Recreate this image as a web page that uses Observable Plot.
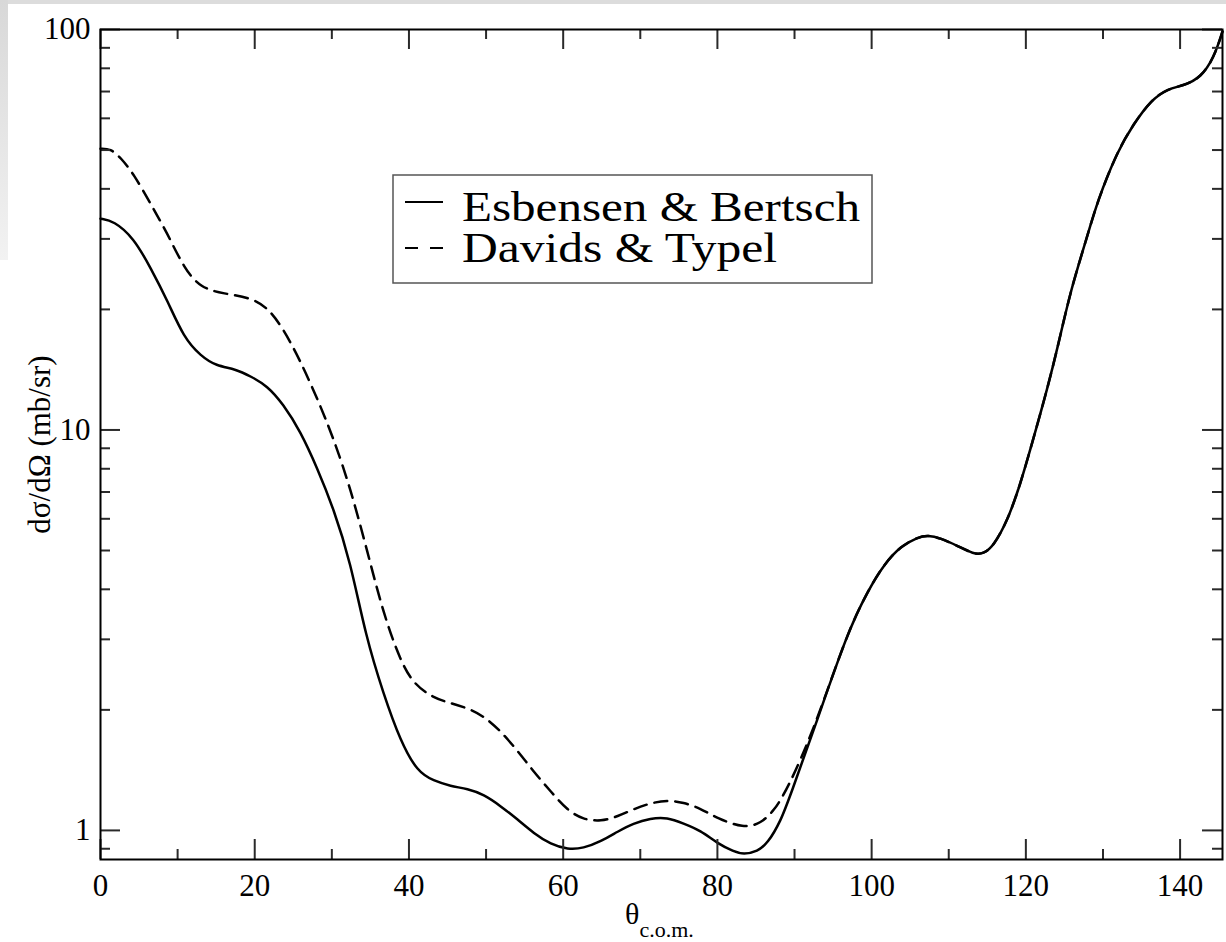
<!DOCTYPE html>
<html><head><meta charset="utf-8">
<script src="https://cdn.jsdelivr.net/npm/d3@7"></script>
<script src="https://cdn.jsdelivr.net/npm/@observablehq/plot@0.6"></script>
<style>
html,body{margin:0;padding:0;background:#fff;}
#wrap{position:relative;width:1226px;height:942px;overflow:hidden;background:#fff;}
#topband{position:absolute;left:0;top:0;width:1226px;height:4px;background:#dcdcdc;}
#leftband{position:absolute;left:0;top:0;width:8px;height:260px;background:linear-gradient(#d8d8d8,#f2f2f2);}
#overlay{position:absolute;left:0;top:0;pointer-events:none;}
</style></head><body>
<div id="wrap"><div id="chart"></div><div id="topband"></div><div id="leftband"></div>
<svg id="overlay" width="1226" height="942" font-family="Liberation Serif, Times New Roman, serif">
  <g id="legend">
    <rect x="393" y="175" width="479" height="108" fill="#fff" stroke="#555" stroke-width="1.5"></rect>
    <line x1="405" x2="443" y1="202" y2="202" stroke="#000" stroke-width="2"></line>
    <line x1="405" x2="443" y1="248" y2="248" stroke="#000" stroke-width="2" stroke-dasharray="13,12"></line>
    <text id="leg1" x="462" y="221" font-size="43" textLength="398" lengthAdjust="spacingAndGlyphs" fill="#000"></text>
    <text id="leg2" x="462" y="262" font-size="43" textLength="315" lengthAdjust="spacingAndGlyphs" fill="#000"></text>
  </g>
  <text id="xlab" x="625" y="924" font-size="30" fill="#000"></text>
</svg>
</div>
<script>
// ---- data ----
const seriesNames = ["Esbensen & Bertsch", "Davids & Typel"];
const xAxisTitle = "θ";
const xAxisSub = "c.o.m.";
const yAxisTitle = "dσ/dΩ (mb/sr)";

const thetaEB = [0,1.7,4.3,6.5,8.7,10.8,13.0,15.0,17.5,19.5,21.6,23.7,25.9,28.1,30.2,32.4,34.4,36.7,38.9,41.1,43.2,45.4,47.6,49.7,51.9,54.1,56.2,58.4,60.6,62.6,64.9,67.1,69.1,71.3,73.5,75.6,77.8,80.0,82.1,83.4,85.2,86.5,88.2,89.5,92.5,96.9,99.5,101.6,103.8,106.0,107.3,108.9,111.2,113.2,114.5,115.8,117.6,119.3,121.0,122.8,124.2,125.8,127.8,129.3,131.9,134.0,136.2,138.4,140.5,142.7,144.4,145.5];
const sigmaEB = [33.7,33.3,30.2,25.4,21.0,17.0,15.3,14.45,14.2,13.6,12.9,11.6,9.94,8.04,6.38,4.70,3.05,2.19,1.67,1.40,1.33,1.29,1.27,1.23,1.15,1.065,0.983,0.923,0.896,0.902,0.939,0.994,1.041,1.072,1.078,1.041,1.0,0.928,0.886,0.871,0.886,0.928,1.053,1.23,1.78,3.14,3.96,4.62,5.13,5.40,5.46,5.37,5.13,4.90,4.90,5.13,5.92,7.33,9.55,12.7,16.3,22.3,29.7,37.4,49.8,58.2,66.5,71.2,72.4,75.9,85.1,98.9];

const thetaDT = [0,1.3,2.6,4.3,6.5,8.7,10.8,13.0,16.0,19.5,21.7,23.7,25.9,28.1,30.2,32.4,34.6,36.7,38.9,40.6,43.2,45.4,47.6,49.7,51.9,54.1,56.2,58.4,60.6,62.6,64.9,67.1,69.1,71.3,73.5,75.6,77.8,80.0,83.4,85.6,87.3,89.1,92.5,96.9,99.5,101.6,103.8,106.0,107.3,108.9,111.2,113.2,114.5,115.8,117.6,119.3,121.0,122.8,124.2,125.8,127.8,129.3,131.9,134.0,136.2,138.4,140.5,142.7,144.4,145.5];
const sigmaDT = [50.4,50.4,47.9,43.6,36.7,30.9,25.4,22.6,21.9,21.4,20.2,17.9,14.9,12.0,9.55,7.16,4.98,3.47,2.65,2.32,2.14,2.08,2.02,1.93,1.77,1.58,1.40,1.25,1.12,1.065,1.053,1.084,1.13,1.17,1.19,1.175,1.135,1.072,1.012,1.041,1.116,1.27,1.78,3.14,3.96,4.62,5.13,5.40,5.46,5.37,5.13,4.90,4.90,5.13,5.92,7.33,9.55,12.7,16.3,22.3,29.7,37.4,49.8,58.2,66.5,71.2,72.4,75.9,85.1,98.9];

const xMajor = [0,20,40,60,80,100,120,140];
const xMinor = [10,30,50,70,90,110,130];
const yMajor = [1,10,100];
const yMinor = [0.9,2,3,4,5,6,7,8,9,20,30,40,50,60,70,80,90];
const xDomain = [0,145.5];
const yDomain = [0.846,100];

// ---- build ----
const W = 1226, H = 942, mL = 100, mR = 4, mT = 29, mB = 83;
const innerW = W - mL - mR, innerH = H - mT - mB;
const eb = thetaEB.map((t,i)=>({t, s: sigmaEB[i]}));
const dt = thetaDT.map((t,i)=>({t, s: sigmaDT[i]}));
const tickCol = "#2a2a2a";
const font = "Liberation Serif, Times New Roman, serif";

const chart = Plot.plot({
  width: W, height: H,
  marginLeft: mL, marginRight: mR, marginTop: mT, marginBottom: mB,
  x: {domain: xDomain},
  y: {type: "log", domain: yDomain},
  style: {fontFamily: font, background: "#fff", color: "#000"},
  marks: [
    Plot.line(dt, {x: "t", y: "s", curve: "basis", stroke: "#000", strokeWidth: 2.5, strokeDasharray: "13,8"}),
    Plot.line(eb, {x: "t", y: "s", curve: "basis", stroke: "#000", strokeWidth: 2.5}),
    // inward ticks, bottom and top
    Plot.ruleX(xMajor, {insetTop: innerH - 20, stroke: tickCol, strokeWidth: 2}),
    Plot.ruleX(xMajor, {insetBottom: innerH - 20, stroke: tickCol, strokeWidth: 2}),
    Plot.ruleX(xMinor, {insetTop: innerH - 10, stroke: tickCol, strokeWidth: 2}),
    Plot.ruleX(xMinor, {insetBottom: innerH - 10, stroke: tickCol, strokeWidth: 2}),
    // inward ticks, left and right
    Plot.ruleY(yMajor, {insetRight: innerW - 20, stroke: tickCol, strokeWidth: 2}),
    Plot.ruleY(yMajor, {insetLeft: innerW - 20, stroke: tickCol, strokeWidth: 2}),
    Plot.ruleY(yMinor, {insetRight: innerW - 10, stroke: tickCol, strokeWidth: 2}),
    Plot.ruleY(yMinor, {insetLeft: innerW - 10, stroke: tickCol, strokeWidth: 2}),
    Plot.frame({stroke: "#000", strokeWidth: 2}),
    Plot.axisX(xMajor, {anchor: "bottom", tickSize: 0, tickPadding: 14, fontSize: 31, label: null, tickFormat: d => String(d)}),
    Plot.axisY(yMajor, {anchor: "left", tickSize: 0, tickPadding: 10, fontSize: 31, label: null, tickFormat: d => String(d)}),
    Plot.text([yAxisTitle], {frameAnchor: "left", textAnchor: "middle", rotate: -90, dx: -60, fontSize: 31, fill: "#000"})
  ]
});
document.getElementById("chart").appendChild(chart);
document.getElementById("leg1").textContent = seriesNames[0];
document.getElementById("leg2").textContent = seriesNames[1];
const xl = document.getElementById("xlab");
const t1 = document.createElementNS("http://www.w3.org/2000/svg","tspan");
t1.textContent = xAxisTitle;
const t2 = document.createElementNS("http://www.w3.org/2000/svg","tspan");
t2.textContent = xAxisSub; t2.setAttribute("font-size","22"); t2.setAttribute("dy","13");
xl.appendChild(t1); xl.appendChild(t2);
</script>
</body></html>
